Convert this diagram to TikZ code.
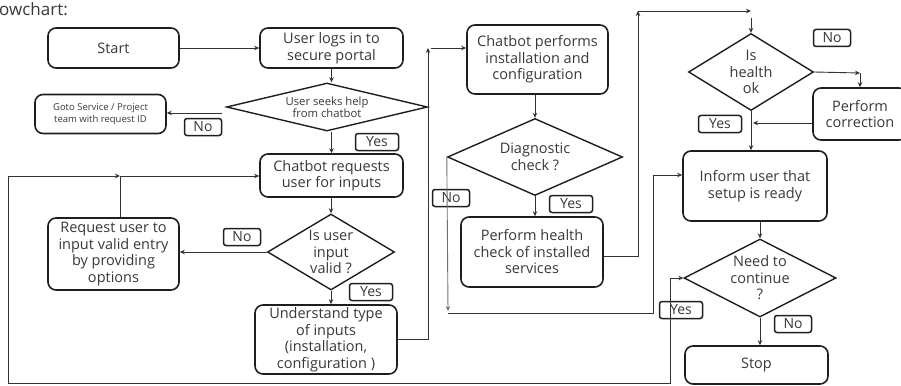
\documentclass[tikz,border=0pt]{standalone}
\usepackage{fontspec}
\setmainfont{Open Sans}
\usetikzlibrary{shapes.geometric,arrows.meta,calc}
\definecolor{ink}{HTML}{1E1E1E}
\definecolor{txt}{HTML}{383838}
\definecolor{ln}{HTML}{333333}
\begin{document}
\begin{tikzpicture}[x=1pt,y=-1pt,
  mainf/.style={font=\fontsize{14.5}{16.5}\selectfont},
  box/.style={draw=ink, line width=1.6pt, rounded corners=8pt, align=center, text=txt, inner sep=0pt, mainf},
  dia/.style={draw=ink, line width=1.4pt, diamond, inner sep=0pt},
  dtext/.style={align=center, text=txt, inner sep=0pt, mainf},
  tag/.style={draw=ink, line width=1.5pt, rounded corners=2.5pt, text=txt, font=\fontsize{14}{15}\selectfont, inner xsep=0pt, inner ysep=0pt, minimum height=17pt, text height=10.5pt, text depth=1pt},
  yestag/.style={tag, minimum width=43pt},
  notag/.style={tag, minimum width=37pt},
  conn/.style={draw=ln, line width=0.9pt},
  arr/.style={conn, -{Stealth[length=5pt,width=4.5pt]}},
  sz/.style 2 args={minimum width=#1pt, minimum height=#2pt},
]
\useasboundingbox (0,0) rectangle (901,385);

\node[anchor=base west, font=\fontsize{17}{19}\selectfont, text=txt, inner sep=0pt] (title) at (-1,16) {owchart:};

% boxes
\node[box, sz={131}{40}] (start) at (113.5,48) {Start};
\node[box, sz={143}{40}] (login) at (331.5,48) {User logs in to\\secure portal};
\node[box, sz={131}{39}, font=\fontsize{9.5}{11.5}\selectfont] (goto) at (100.5,114) {Goto Service / Project\\team with request ID};
\node[box, sz={143}{43}] (req) at (331.5,175.5) {Chatbot requests\\user for inputs};
\node[box, sz={131}{72}] (invalid) at (113.5,254) {Request user to\\input valid entry\\by providing\\options};
\node[box, sz={142}{69}] (under) at (326,339.5) {Understand type\\of inputs\\(installation,\\configuration )};
\node[box, sz={141}{69}] (perform) at (537.5,59.5) {Chatbot performs\\installation and\\configuration};
\node[box, sz={142}{70}] (health) at (532,252) {Perform health\\check of installed\\services};
\node[box, sz={94}{52}] (corr) at (860,114) {Perform\\correction};
\node[box, sz={144}{70}] (inform) at (755,186) {Inform user that\\setup is ready};
\node[box, sz={143}{38}] (stop) at (756.5,365) {Stop};

% diamonds
\node[dia, sz={201}{48}] (d1) at (327,107) {};
\node[dtext, font=\fontsize{11.3}{11.7}\selectfont] (t1) at (d1) {User seeks help\\from chatbot};
\node[dia, sz={127}{76}] (d2) at (331,252) {};
\node[dtext] (t2) at (d2) {Is user\\input\\valid ?};
\node[dia, sz={175}{77}] (d3) at (535,157) {};
\node[dtext] (t3) at (d3) {Diagnostic\\check ?};
\node[dia, sz={125}{77}] (d4) at (751,72) {};
\node[dtext] (t4) at (d4) {Is\\health\\ok};
\node[dia, sz={152}{78}] (d5) at (760,278) {};
\node[dtext] (t5) at (d5) {Need to\\continue\\?};

% tags
\node[notag] (no1) at (203,127) {No};
\node[yestag] (yes1) at (377,142) {Yes};
\node[notag] (no2) at (242,237) {No};
\node[yestag] (yes2) at (371,292) {Yes};
\node[notag] (no3) at (451,198) {No};
\node[yestag] (yes3) at (571,204) {Yes};
\node[notag] (no4) at (832,38) {No};
\node[yestag] (yes4) at (720,124) {Yes};
\node[yestag] (yes5) at (681,310) {Yes};
\node[notag] (no5) at (793,324) {No};

% coordinates
\coordinate (c0) at (222,113);
\coordinate (c1) at (120,176);
\coordinate (c2) at (428,339);
\coordinate (c3) at (428,48);
\coordinate (c4) at (431,48);
\coordinate (c5) at (448,311);
\coordinate (c6) at (448,313);
\coordinate (c7) at (653,313);
\coordinate (c8) at (653,175);
\coordinate (c9) at (638,256);
\coordinate (c10) at (638,11);
\coordinate (c11) at (751,11);
\coordinate (c12) at (751,18);
\coordinate (c13) at (860,73);
\coordinate (c14) at (8,176);
\coordinate (c15) at (8,383);
\coordinate (c16) at (670,383);
\coordinate (c17) at (670,278);
\coordinate (c18) at (753,123);

% connectors
\draw[arr] (start.east) -- (login.west);
\draw[arr] (login.south) -- (login.south |- d1.north);
\draw[arr] (c0) -- (c0 -| goto.east);
\draw[arr] (login.south |- d1.south) -- (login.south |- req.north);
\draw[arr] (req.south -| d2.north) -- (d2.north);
\draw[arr] (d2.west) -- (invalid.east |- d2.west);
\draw[arr] (invalid.north -| c1) -- (c1) -- (c1 -| req.west);
\draw[arr] (d2.south) -- (d2.south |- under.north);
\draw[arr] (c2 -| under.east) -- (c2) -- (c3);
\draw[arr] (c4) -- (c4 -| perform.west);
\draw[arr] (perform.south -| d3.north) -- (d3.north);
\draw[arr] (d3.south) -- (d3.south |- health.north);
\draw[arr, draw=ln!70] (d3.west) -- (c5);
\draw[arr] (c6) -- (c7) -- (c8) -- (c8 -| inform.west);
\draw[arr] (c9 -| health.east) -- (c9) -- (c10);
\draw[arr] (c10) -- (c11);
\draw[arr] (c12) -- (d4.north);
\draw[arr] (d4.east) -- (c13);
\draw[arr] (c13) -- (c13 |- corr.north);
\draw[arr] (corr.west |- c18) -- (c18);
\draw[arr] (d4.south) -- (d4.south |- inform.north);
\draw[arr] (inform.south -| d5.north) -- (d5.north);
\draw[arr] (d5.south) -- (d5.south |- stop.north);
\draw[conn, {Stealth[length=5pt,width=4.5pt]}-{Stealth[length=5pt,width=4.5pt]}] (c1) -- (c14) -- (c15) -- (c16) -- (c17) -- (d5.west);
\end{tikzpicture}
\end{document}
